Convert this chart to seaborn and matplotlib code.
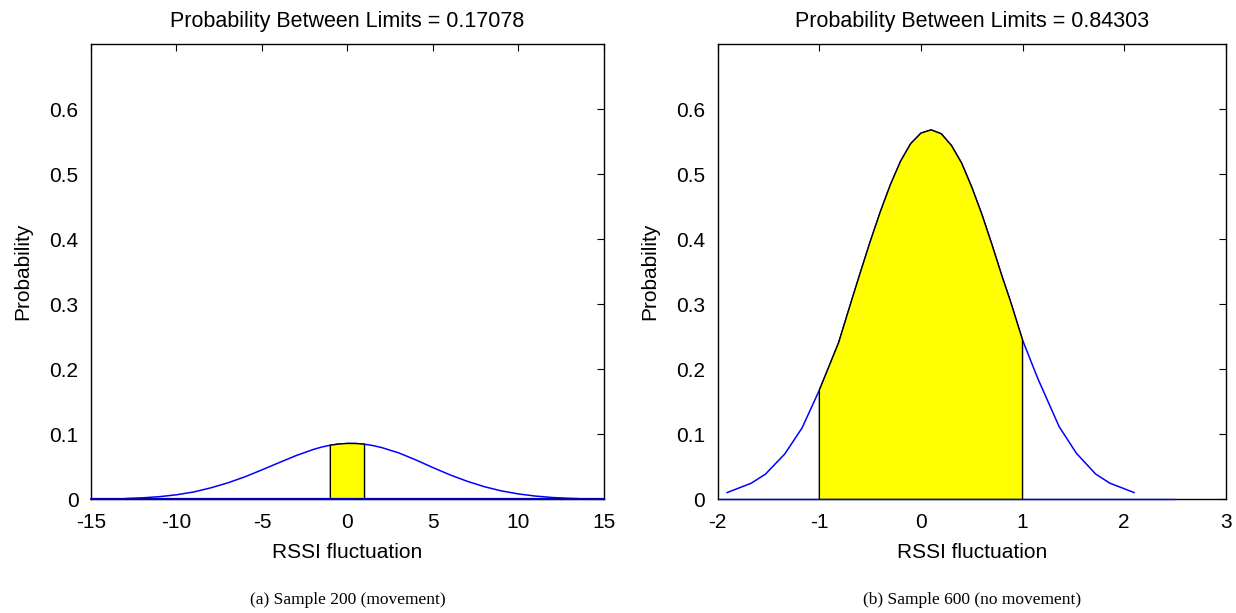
import matplotlib
matplotlib.use("Agg")
import matplotlib.pyplot as plt
import seaborn as sns
import pandas as pd

# Panel (a): sample 200, movement
x_a = [-13, -12, -11, -10, -9, -8, -7, -6, -5, -4, -3, -2, -1.5, -1, -0.5, 0,
       0.5, 1, 1.5, 2, 3, 4, 5, 6, 7, 8, 9, 10, 11, 12, 13, 13.5]
y_a = [0.0014, 0.0025, 0.0043, 0.0072, 0.0115, 0.0178, 0.0255, 0.0348, 0.0455,
       0.0566, 0.0675, 0.0768, 0.0806, 0.0834, 0.0852, 0.0861, 0.0860, 0.0849,
       0.0828, 0.0798, 0.0716, 0.0608, 0.0490, 0.0378, 0.0280, 0.0197, 0.0132,
       0.0085, 0.0052, 0.0030, 0.0017, 0.0013]
limits_a = [-1, 1]
prob_a = "0.17078"
baseline_a = [-15, 15]
xlim_a = [-15, 15]
xticks_a = [-15, -10, -5, 0, 5, 10, 15]

# Panel (b): sample 600, no movement
x_b = [-1.91, -1.67, -1.53, -1.34, -1.17, -1.0, -0.81, -0.68, -0.6, -0.5, -0.4,
       -0.3, -0.2, -0.1, 0.0, 0.1, 0.2, 0.3, 0.4, 0.5, 0.6, 0.7, 0.8, 0.88, 1.0,
       1.15, 1.36, 1.53, 1.72, 1.86, 2.10]
y_b = [0.0105, 0.025, 0.039, 0.070, 0.110, 0.168, 0.241, 0.307, 0.347, 0.396,
       0.442, 0.484, 0.520, 0.547, 0.563, 0.568, 0.562, 0.544, 0.517, 0.480,
       0.438, 0.391, 0.342, 0.305, 0.245, 0.186, 0.112, 0.071, 0.039, 0.025,
       0.0105]
limits_b = [-1, 1]
prob_b = "0.84303"
baseline_b = [-2, 2.5]
xlim_b = [-2, 3]
xticks_b = [-2, -1, 0, 1, 2, 3]

yticks = [0, 0.1, 0.2, 0.3, 0.4, 0.5, 0.6]
ylim = [0, 0.7]

captions = ["(a) Sample 200 (movement)", "(b) Sample 600 (no movement)"]

sns.set_theme(style="white")
plt.rcParams["font.family"] = ["Liberation Sans", "DejaVu Sans"]
plt.rcParams["text.color"] = "black"
plt.rcParams["axes.labelcolor"] = "black"

fig = plt.figure(figsize=(12.36, 6.13), dpi=100)
ax_a = fig.add_axes([0.0736, 0.1852, 0.415, 0.743])
ax_b = fig.add_axes([0.5807, 0.1852, 0.411, 0.743])

panels = [
    (ax_a, x_a, y_a, limits_a, prob_a, baseline_a, xlim_a, xticks_a, captions[0], "#0000b4", 1.6),
    (ax_b, x_b, y_b, limits_b, prob_b, baseline_b, xlim_b, xticks_b, captions[1], "#0000ff", 1.0),
]

for ax, xs, ys, lim, prob, base, xl, xt, cap, base_color, base_lw in panels:
    df = pd.DataFrame({"x": xs, "y": ys})
    # baseline along zero
    ax.plot(base, [0, 0], color=base_color, lw=base_lw, zorder=5, clip_on=False)
    # density curve
    sns.lineplot(data=df, x="x", y="y", ax=ax, color="#0000ff", lw=1.1,
                 estimator=None, sort=False, zorder=3)
    # shaded region between the limits
    inside = df[(df["x"] >= lim[0]) & (df["x"] <= lim[1])]
    px = [lim[0]] + inside["x"].tolist() + [lim[1]]
    py = [0] + inside["y"].tolist() + [0]
    ax.fill(px, py, facecolor="#ffff00", edgecolor="black", lw=1.0, zorder=4)

    ax.set_xlim(xl)
    ax.set_ylim(ylim)
    ax.set_xticks(xt)
    ax.set_xticklabels([str(v) for v in xt])
    ax.set_yticks(yticks)
    ax.set_yticklabels(["0"] + [f"{v:.1f}" for v in yticks[1:]])
    ax.tick_params(direction="in", length=5, width=0.8, top=True, right=True,
                   labelsize=15, colors="black")
    ax.tick_params(axis="x", pad=10)
    ax.tick_params(axis="y", pad=9)
    for sp in ax.spines.values():
        sp.set_visible(True)
        sp.set_color("black")
        sp.set_linewidth(1.0)
    ax.set_xlabel("RSSI fluctuation", fontsize=15, labelpad=8)
    ax.set_ylabel("Probability", fontsize=15, labelpad=12)
    ax.set_title(f"Probability Between Limits = {prob}", fontsize=15.5, pad=12)
    ax.text(0.5, -0.221, cap, transform=ax.transAxes, ha="center", va="center",
            fontsize=12.5, family=["Liberation Serif", "DejaVu Serif"])

fig.savefig("out.png", dpi=100)
